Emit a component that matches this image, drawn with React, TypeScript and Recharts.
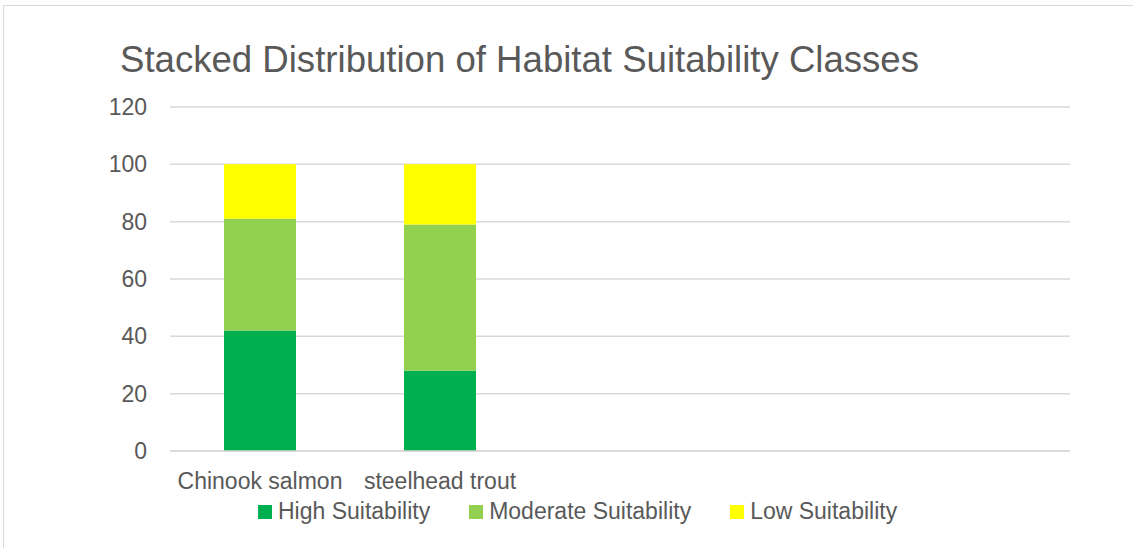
import React from 'react'
import { BarChart, Bar, XAxis, YAxis, CartesianGrid } from 'recharts'

const categories = ['Chinook salmon', 'steelhead trout', '', ' ', '  ']
const highSuitability = [42, 28, null, null, null]
const moderateSuitability = [39, 51, null, null, null]
const lowSuitability = [19, 21, null, null, null]
const yTicks = [0, 20, 40, 60, 80, 100, 120]

const series = [
  { key: 'high', name: 'High Suitability', color: '#00B050' },
  { key: 'moderate', name: 'Moderate Suitability', color: '#92D050' },
  { key: 'low', name: 'Low Suitability', color: '#FFFF00' },
]

const data = categories.map((name, i) => ({
  name,
  high: highSuitability[i],
  moderate: moderateSuitability[i],
  low: lowSuitability[i],
}))

const font = '"Liberation Sans", Arial, sans-serif'
const textColor = '#595959'

export default function App() {
  return (
    <div style={{ position: 'absolute', left: 0, top: 0, width: 1133, height: 548, background: '#fff', overflow: 'hidden', fontFamily: font }}>
      <div style={{ position: 'absolute', left: 3, top: 5, width: 1200, height: 600, border: '1px solid #d9d9d9' }} />
      <div style={{ position: 'absolute', left: 120, top: 41, fontSize: 36.6, lineHeight: '38px', color: textColor, whiteSpace: 'nowrap' }}>
        Stacked Distribution of Habitat Suitability Classes
      </div>
      <div style={{ position: 'absolute', left: 0, top: 0 }}>
        <BarChart width={1133} height={548} data={data} margin={{ top: 107, right: 63, left: 110, bottom: 57 }} barCategoryGap="30%">
          <CartesianGrid vertical={false} stroke="#d9d9d9" strokeWidth={1.5} />
          <XAxis
            dataKey="name"
            height={40}
            axisLine={{ stroke: '#d9d9d9', strokeWidth: 1.5 }}
            tickLine={false}
            tickSize={0}
            tickMargin={22}
            interval={0}
            tick={{ fill: textColor, fontSize: 23, fontFamily: font }}
          />
          <YAxis
            width={60}
            domain={[0, 120]}
            ticks={yTicks}
            axisLine={false}
            tickLine={false}
            tickSize={0}
            tickMargin={23}
            tick={{ fill: textColor, fontSize: 23, fontFamily: font }}
          />
          {series.map((s) => (
            <Bar key={s.key} dataKey={s.key} name={s.name} stackId="a" fill={s.color} isAnimationActive={false} />
          ))}
        </BarChart>
      </div>
      <div style={{ position: 'absolute', left: 258, top: 498, display: 'flex', alignItems: 'center', fontSize: 23, color: textColor, whiteSpace: 'nowrap' }}>
        {series.map((s) => (
          <div key={s.key} style={{ display: 'flex', alignItems: 'center', marginRight: 39 }}>
            <span style={{ display: 'inline-block', width: 14, height: 14, background: s.color, marginRight: 6 }} />
            <span>{s.name}</span>
          </div>
        ))}
      </div>
    </div>
  )
}
